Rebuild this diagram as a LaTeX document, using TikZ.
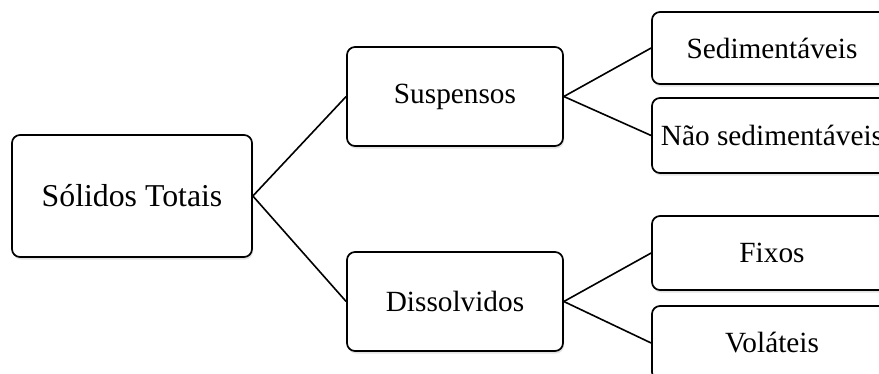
\documentclass[tikz,border=0pt]{standalone}
\usepackage{fontspec}
\setmainfont{Liberation Serif}
\usetikzlibrary{shadows}
\begin{document}
\begin{tikzpicture}[x=1pt,y=-1pt,
  box/.style={draw=black, line width=1.7pt, fill=white, rounded corners=8pt,
    inner sep=0pt, font=\fontsize{29.3}{31}\selectfont,
    drop shadow={opacity=0.22, shadow xshift=1pt, shadow yshift=-2.5pt}},
  link/.style={line width=1.6pt, black}]
\useasboundingbox (0,0) rectangle (879,373);
\fill[white] (0,0) rectangle (879,373);
\clip (0,0) rectangle (879,373);
\node[box, minimum width=240pt, minimum height=122pt, font=\fontsize{31.8}{33}\selectfont] (tot) at (132,196) {Sólidos Totais};
\node[box, minimum width=216pt, minimum height=99pt] (sus) at (455,96.5) {Suspensos};
\node[box, minimum width=216pt, minimum height=99pt] (dis) at (455,301.5) {Dissolvidos};
\node[box, minimum width=240pt, minimum height=72pt] (sed) at (772,48) {Sedimentáveis};
\node[box, minimum width=240pt, minimum height=75pt] (nao) at (772,135.5) {Não sedimentáveis};
\node[box, minimum width=240pt, minimum height=74pt] (fix) at (772,253) {Fixos};
\node[box, minimum width=240pt, minimum height=74pt] (vol) at (772,343) {Voláteis};
\draw[link] (tot.east) -- (sus.west);
\draw[link] (tot.east) -- (dis.west);
\draw[link] (sus.east) -- (sed.west);
\draw[link] (sus.east) -- (nao.west);
\draw[link] (dis.east) -- (fix.west);
\draw[link] (dis.east) -- (vol.west);
\end{tikzpicture}
\end{document}
